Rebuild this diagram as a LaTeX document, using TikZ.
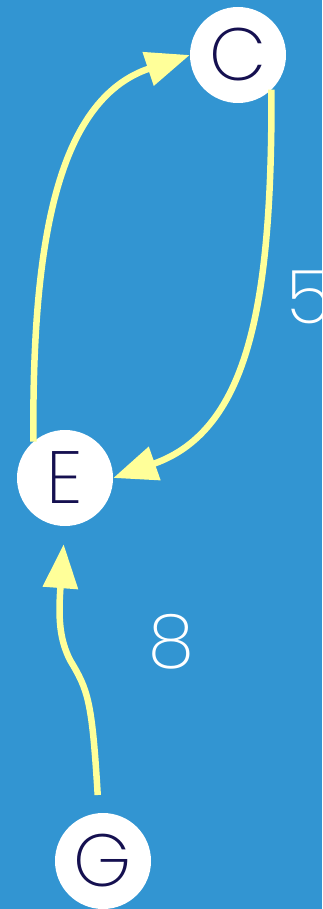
\documentclass[tikz,border=0pt]{standalone}
\usepackage{fontspec}
\setmainfont{Poppins}[UprightFont=*-ExtraLight]
\usepackage{xcolor}
\usetikzlibrary{arrows.meta}
\definecolor{bgblue}{RGB}{50,149,210}
\definecolor{edgeyellow}{RGB}{255,255,153}
\definecolor{labelnavy}{RGB}{21,16,80}

\begin{document}
\begin{tikzpicture}[
        x=1pt,y=-1pt,
        vertex/.style={circle,fill=white,inner sep=0pt,minimum size=96pt,
          text=labelnavy,font=\fontsize{74}{74}\selectfont},
        weight/.style={text=white,font=\fontsize{74}{74}\selectfont},
        edgearrow/.style={-{Triangle[length=44pt,width=34pt]},line width=6.5pt,draw=edgeyellow}
      ]
        \fill[bgblue] (0,0) rectangle (322,909);
        \useasboundingbox (0,0) rectangle (322,909);
        \node[vertex] (c) at (238,55) {C};
        \node[vertex] (e) at (65,478) {E};
        \node[vertex] (g) at (103,861) {G};
        \node[weight] (w5) at (309,297) {5};
        \node[weight] (w8) at (171,642) {8};
        \draw[edgearrow] (e.131) .. controls (32,250) and (55,100) .. (c.west);
        \draw[edgearrow] (c.-46) .. controls (272,300) and (250,430) .. (e.east);
        \draw[edgearrow,shorten <=18pt,shorten >=18pt] (g.95) .. controls (92,700) and (88,690) .. (70,660)
          .. controls (60,640) and (58,620) .. (e.south);
      \end{tikzpicture}
\end{document}
